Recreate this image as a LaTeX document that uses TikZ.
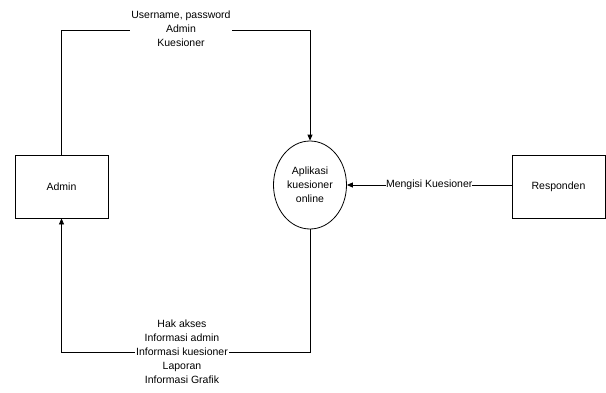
\documentclass[tikz,border=0pt]{standalone}
\usepackage{fontspec}
\setmainfont{Liberation Sans}
\usetikzlibrary{shapes.geometric,arrows.meta}
\begin{document}
\begin{tikzpicture}[x=1pt,y=-1pt,
  font=\fontsize{10.5}{14}\selectfont,
  entity/.style={draw,line width=0.8pt,minimum width=93pt,minimum height=63pt,inner sep=0pt},
  process/.style={draw,ellipse,line width=0.8pt,minimum width=73pt,minimum height=88pt,inner sep=0pt,align=center},
  flow/.style={line width=0.8pt,-{Triangle[length=6pt,width=5pt]}},
  flowlabel/.style={fill=white,align=center,inner sep=1pt}]
\useasboundingbox (0,0) rectangle (606,392);
% external entities and the process
\node[entity] (admin) at (61.5,186.5) {Admin};
\node[entity] (resp) at (558.5,186.5) {Responden};
\node[process] (app) at (310,185) {Aplikasi\\kuesioner\\online};
% bend points of the routed flows
\coordinate (tl) at (61.5,30);
\coordinate (tr) at (310,30);
\coordinate (br) at (310,352);
\coordinate (bl) at (61.5,352);
% Admin -> process
\draw[flow] (admin.north) -- (tl) -- (tr) -- (app.north);
\node[flowlabel] at (181,29) {Username, password\\Admin\\Kuesioner};
% process -> Admin
\draw[flow] (app.south) -- (br) -- (bl) -- (admin.south);
\node[flowlabel] at (182,352) {Hak akses\\Informasi admin\\Informasi kuesioner\\Laporan\\Informasi Grafik};
% Responden -> process
\draw[flow] (resp.west |- app.east) -- node[flowlabel,inner xsep=0pt] {Mengisi Kuesioner} (app.east);
\end{tikzpicture}
\end{document}
